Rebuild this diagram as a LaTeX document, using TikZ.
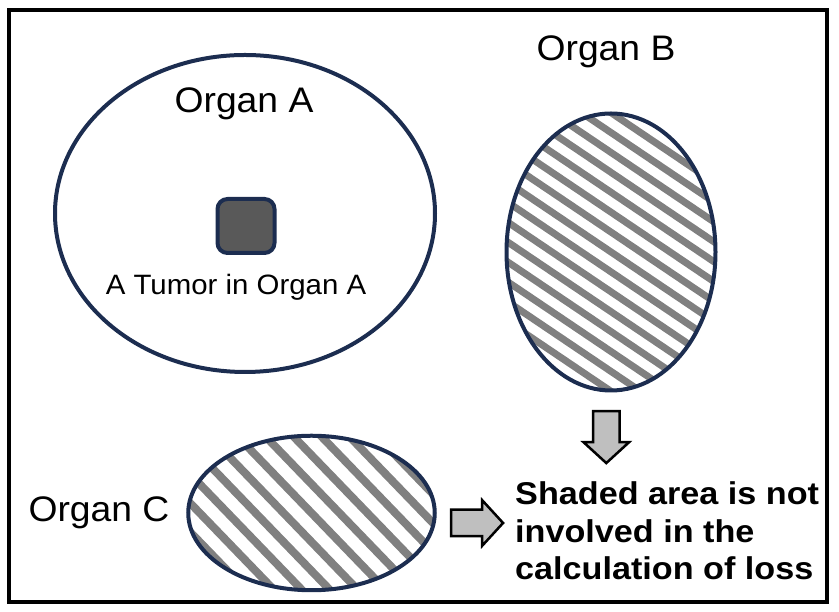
\documentclass[tikz,border=0pt]{standalone}
\usepackage{fontspec}
\setmainfont{Liberation Sans}
\newfontfamily\organfont[FakeStretch=1.05]{Liberation Sans}
\newfontfamily\notefont[FakeStretch=1.05]{Liberation Sans}
\newfontfamily\boldnotefont[FakeStretch=1.085]{Liberation Sans}
\usetikzlibrary{shapes.geometric, shapes.arrows}
\definecolor{organline}{RGB}{28,45,80}
\definecolor{stripegray}{RGB}{128,128,128}
\definecolor{tumorfill}{RGB}{89,89,89}
\definecolor{arrowfill}{RGB}{191,191,191}

\tikzset{
  organ/.style={ellipse, draw=organline, line width=4pt, inner sep=0pt},
  hatched/.style n args={3}{path picture={
      \foreach \k in {-20,...,20}
        \draw[stripegray, line width=#3, shift={(path picture bounding box.center)}]
          (#1-90:{\k*#2}) ++(#1:-320) -- ++(#1:640);}},
  organlabel/.style={font=\organfont\fontsize{35.5}{40}\selectfont, inner sep=0pt, anchor=base},
  blockarrow/.style={single arrow, draw=black, line width=2.5pt, fill=arrowfill,
      minimum height=52pt, inner sep=12pt, single arrow head extend=9.5pt,
      single arrow tip angle=95},
}

\begin{document}
\begin{tikzpicture}[x=1pt, y=1pt]
  \useasboundingbox (0,0) rectangle (839,612);

  % --- frame ---
  \draw[black, line width=4pt] (8.5,10) rectangle (827,602);

  % --- Organ A with the tumor ---
  \node[organ, minimum width=380pt, minimum height=317pt] (organA) at (245,398.5) {};
  \node[draw=organline, line width=4pt, fill=tumorfill, rounded corners=10pt,
        minimum width=57pt, minimum height=54pt, inner sep=0pt] (tumor) at (246,386) {};
  \node[organlabel] (labelA) at (244,499.3) {Organ A};
  \node[font=\notefont\fontsize{28}{32}\selectfont, inner sep=0pt, anchor=base]
        (labelTumor) at (236,317) {A Tumor in Organ A};

  % --- Organ B (shaded) ---
  \node[organ, hatched={-34}{16.5}{7pt}, minimum width=209pt, minimum height=277pt] (organB) at (611,360) {};
  \node[organlabel] (labelB) at (606,551) {Organ B};

  % --- Organ C (shaded) ---
  \node[organ, hatched={-46}{20.1}{8pt}, minimum width=246.5pt, minimum height=154.5pt] (organC) at (311.5,99) {};
  \node[organlabel] (labelC) at (99,90) {Organ C};

  % --- block arrows and note ---
  \node[blockarrow, shape border rotate=270] (downArrow) at (606.3,181) {};
  \node[blockarrow] (rightArrow) at (471,89) {};
  \node[font=\boldnotefont\bfseries\fontsize{31.5}{37.5}\selectfont, align=left, anchor=west, inner sep=0pt]
        (note) at (515,81) {Shaded area is not\\involved in the\\calculation of loss};
\end{tikzpicture}
\end{document}
